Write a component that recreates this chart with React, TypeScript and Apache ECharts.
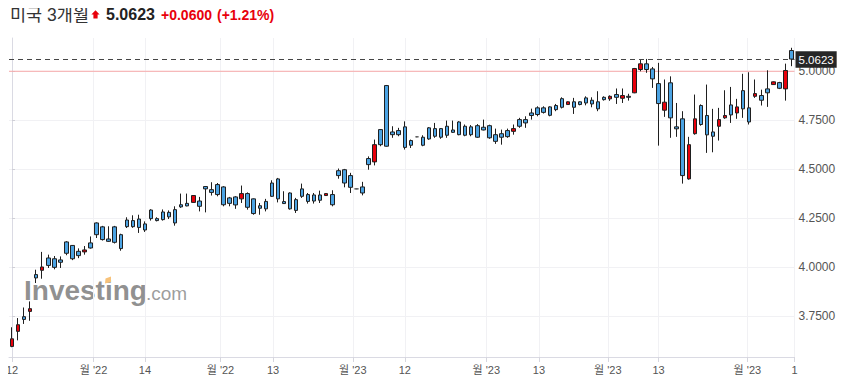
import { useEffect, useRef } from "react";
import * as echarts from "echarts";

// ---- data (weekly OHLC) ----
const opens = [
  3.594, 3.671, 3.746, 3.773, 3.961, 3.983, 4.046, 4.042, 4.036, 4.128,
  4.110, 4.080, 4.077, 4.123, 4.225, 4.205, 4.143, 4.205, 4.165, 4.240,
  4.237, 4.245, 4.220, 4.291, 4.247, 4.281, 4.279, 4.293, 4.318, 4.325,
  4.330, 4.337, 4.411, 4.395, 4.421, 4.409, 4.353, 4.358, 4.348, 4.375,
  4.348, 4.313, 4.335, 4.429, 4.450, 4.334, 4.378, 4.344, 4.399, 4.370,
  4.368, 4.368, 4.365, 4.370, 4.492, 4.497, 4.467, 4.399, 4.409, 4.554,
  4.537, 4.702, 4.927, 4.690, 4.697, 4.716, 4.646, 4.665, 4.663, 4.711,
  4.707, 4.707, 4.719, 4.700, 4.741, 4.719, 4.716, 4.722, 4.714, 4.722,
  4.676, 4.681, 4.697, 4.693, 4.753, 4.753, 4.787, 4.813, 4.813, 4.818,
  4.825, 4.860, 4.830, 4.844, 4.844, 4.864, 4.852, 4.844, 4.867, 4.859,
  4.881, 4.862, 4.872, 4.890, 5.009, 5.038, 5.012, 4.937, 4.801, 4.941,
  4.716, 4.757, 4.450, 4.681, 4.825, 4.774, 4.690, 4.719, 4.762, 4.828,
  4.787, 4.901, 4.813, 4.872, 4.876, 4.910, 4.932, 4.942, 4.910, 5.106,
];
const closes = [
  3.633, 3.705, 3.732, 3.787, 3.944, 4.000, 4.008, 3.998, 4.024, 4.070,
  4.042, 4.058, 4.087, 4.097, 4.165, 4.140, 4.131, 4.126, 4.094, 4.206,
  4.206, 4.202, 4.189, 4.247, 4.237, 4.242, 4.256, 4.225, 4.307, 4.312,
  4.365, 4.310, 4.399, 4.381, 4.370, 4.318, 4.325, 4.317, 4.375, 4.305,
  4.273, 4.300, 4.297, 4.361, 4.348, 4.324, 4.297, 4.289, 4.361, 4.335,
  4.337, 4.341, 4.375, 4.318, 4.467, 4.429, 4.407, 4.399, 4.378, 4.523,
  4.625, 4.625, 4.617, 4.676, 4.676, 4.611, 4.622, 4.665, 4.622, 4.654,
  4.668, 4.663, 4.673, 4.688, 4.676, 4.673, 4.676, 4.663, 4.700, 4.660,
  4.642, 4.663, 4.666, 4.707, 4.719, 4.736, 4.774, 4.779, 4.790, 4.775,
  4.804, 4.816, 4.844, 4.816, 4.830, 4.838, 4.833, 4.808, 4.855, 4.872,
  4.867, 4.876, 4.867, 5.014, 5.038, 5.009, 4.961, 4.835, 4.842, 4.762,
  4.706, 4.467, 4.625, 4.757, 4.728, 4.675, 4.668, 4.753, 4.774, 4.777,
  4.818, 4.808, 4.741, 4.886, 4.852, 4.890, 4.946, 4.913, 5.004, 5.0623,
];
const lows = [
  3.590, 3.625, 3.709, 3.725, 3.918, 3.940, 3.995, 3.988, 3.995, 4.060,
  4.035, 4.045, 4.063, 4.094, 4.148, 4.135, 4.128, 4.120, 4.083, 4.199,
  4.200, 4.174, 4.179, 4.237, 4.233, 4.237, 4.245, 4.211, 4.302, 4.310,
  4.328, 4.284, 4.279, 4.365, 4.361, 4.310, 4.310, 4.297, 4.327, 4.293,
  4.267, 4.267, 4.284, 4.358, 4.330, 4.322, 4.293, 4.276, 4.353, 4.324,
  4.324, 4.327, 4.363, 4.310, 4.451, 4.407, 4.378, 4.397, 4.366, 4.497,
  4.519, 4.617, 4.615, 4.660, 4.668, 4.600, 4.608, 4.663, 4.617, 4.650,
  4.660, 4.655, 4.660, 4.685, 4.673, 4.668, 4.668, 4.660, 4.698, 4.655,
  4.629, 4.625, 4.660, 4.676, 4.711, 4.711, 4.753, 4.770, 4.784, 4.770,
  4.796, 4.810, 4.829, 4.782, 4.826, 4.826, 4.816, 4.796, 4.850, 4.849,
  4.833, 4.838, 4.850, 4.888, 5.000, 4.992, 4.915, 4.620, 4.767, 4.660,
  4.665, 4.426, 4.446, 4.676, 4.722, 4.583, 4.586, 4.646, 4.757, 4.736,
  4.757, 4.762, 4.728, 4.864, 4.825, 4.818, 4.930, 4.909, 4.850, 5.026,
];
const highs = [
  3.692, 3.739, 3.793, 3.824, 3.986, 4.077, 4.063, 4.056, 4.054, 4.132,
  4.112, 4.095, 4.107, 4.156, 4.228, 4.210, 4.208, 4.210, 4.170, 4.254,
  4.264, 4.267, 4.233, 4.295, 4.254, 4.294, 4.289, 4.310, 4.375, 4.375,
  4.367, 4.358, 4.413, 4.433, 4.429, 4.413, 4.358, 4.362, 4.416, 4.381,
  4.350, 4.327, 4.348, 4.443, 4.455, 4.387, 4.381, 4.353, 4.426, 4.378,
  4.378, 4.390, 4.377, 4.392, 4.503, 4.501, 4.481, 4.401, 4.435, 4.565,
  4.651, 4.705, 4.930, 4.719, 4.711, 4.744, 4.651, 4.667, 4.673, 4.715,
  4.736, 4.710, 4.748, 4.748, 4.745, 4.728, 4.725, 4.730, 4.753, 4.727,
  4.707, 4.702, 4.707, 4.728, 4.762, 4.770, 4.809, 4.821, 4.821, 4.821,
  4.833, 4.867, 4.846, 4.864, 4.846, 4.872, 4.867, 4.898, 4.872, 4.877,
  4.912, 4.912, 4.885, 5.017, 5.060, 5.063, 5.022, 5.043, 4.958, 4.974,
  4.838, 4.796, 4.665, 4.881, 4.831, 4.932, 4.808, 4.813, 4.903, 4.920,
  4.859, 4.987, 4.995, 4.958, 4.906, 5.005, 4.948, 4.946, 5.039, 5.120,
];

const xTickPositions = [0, 13.5, 22, 34.5, 43.2, 56.4, 65, 78.5, 87.2, 98.6, 107, 121.7, 129.5];
const xTickLabels = ["12", "월 '22", "14", "월 '22", "13", "월 '23", "12", "월 '23", "13", "월 '23", "13", "월 '23", "1"];
const yTicks = [3.75, 4.0, 4.25, 4.5, 4.75, 5.0];

const lastPrice = 5.0623;
const referenceLevel = 5.0;
const titleText = "미국 3개월";
const priceText = "5.0623";
const changeText = "+0.0600";
const changePctText = "(+1.21%)";

const FONT = '"Liberation Sans", Arial, "Noto Sans CJK KR", sans-serif';
const UP_FILL = "#e8000b";
const DOWN_FILL = "#4ba3e3";
const EDGE = "#1f1f1f";
const GRID = "#f1f1f4";
const REF_LINE = "#f7a8a8";

export default function App() {
  const ref = useRef<HTMLDivElement>(null);

  useEffect(() => {
    if (!ref.current) return;
    const chart = echarts.init(ref.current, undefined, { renderer: "svg" });
    const candleData = opens.map((o, i) => [i, o, closes[i], lows[i], highs[i]]);
    const refLineData = [
      [-0.5, referenceLevel],
      [129.5, referenceLevel],
    ];

    const option: any = {
      animation: false,
      backgroundColor: "#ffffff",
      textStyle: { fontFamily: FONT },
      grid: { left: 9, right: 52.5, top: 38, bottom: 27, containLabel: false },
      xAxis: {
        type: "value",
        min: -0.5,
        max: 129.5,
        axisLine: { show: true, lineStyle: { color: "#dadae3" } },
        axisTick: {
          show: true,
          length: 5,
          customValues: xTickPositions,
          lineStyle: { color: "#d6d6de" },
        },
        axisLabel: {
          show: true,
          customValues: xTickPositions,
          color: "#555",
          fontSize: 11,
          fontFamily: FONT,
          margin: 7,
          formatter: (v: number) => {
            const k = xTickPositions.findIndex((t) => Math.abs(t - v) < 1e-6);
            return k >= 0 ? xTickLabels[k] : "";
          },
        },
        splitLine: { show: true, lineStyle: { color: GRID } },
      },
      yAxis: {
        type: "value",
        position: "right",
        min: 3.54,
        max: 5.17,
        scale: true,
        axisLine: { show: true, lineStyle: { color: "#dadae3" } },
        axisTick: {
          show: true,
          length: 3,
          customValues: yTicks,
          lineStyle: { color: "#cfcfd6" },
        },
        axisLabel: {
          show: true,
          customValues: yTicks,
          color: "#555",
          fontSize: 12,
          fontFamily: FONT,
          margin: 4,
          formatter: (v: number) => v.toFixed(4),
        },
        splitLine: { show: true, lineStyle: { color: GRID } },
      },
      series: [
        {
          type: "line",
          data: refLineData,
          z: 2,
          silent: true,
          symbol: "none",
          showSymbol: false,
          color: REF_LINE,
          lineStyle: { color: REF_LINE, width: 1, type: "solid" },
        },
        {
          type: "candlestick",
          data: candleData,
          encode: { x: 0, y: [1, 2, 3, 4] },
          barWidth: 4,
          z: 3,
          itemStyle: {
            color: UP_FILL,
            color0: DOWN_FILL,
            borderColor: EDGE,
            borderColor0: EDGE,
            borderColorDoji: "#555",
            borderWidth: 1,
          },
          markLine: {
            silent: true,
            symbol: ["none", "none"],
            animation: false,
            lineStyle: { color: "#454545", type: [5, 4], width: 1 },
            label: {
              show: true,
              position: "end",
              formatter: priceText,
              color: "#ffffff",
              backgroundColor: "#262626",
              fontSize: 11.5,
              fontFamily: FONT,
              padding: [3, 3, 2, 3],
              distance: 1,
            },
            data: [{ yAxis: lastPrice }],
          },
        },
      ],
      graphic: {
        elements: [
          // watermark
          {
            type: "text",
            x: 24,
            y: 290,
            z: 0,
            style: {
              text: "Investing",
              font: `bold 28px ${FONT}`,
              fill: "rgba(125,125,125,0.85)",
              verticalAlign: "middle",
              align: "left",
            },
          },
          {
            type: "polygon",
            z: 0,
            shape: { points: [[105, 283.5], [111, 282], [111, 276.5], [105.5, 278.5]] },
            style: { fill: "#f7c27a" },
          },
          {
            type: "text",
            x: 146,
            y: 293.5,
            z: 0,
            style: {
              text: ".com",
              font: `19px ${FONT}`,
              fill: "rgba(140,140,140,0.85)",
              verticalAlign: "middle",
              align: "left",
            },
          },
          // header
          {
            type: "text",
            x: 10,
            y: 14.5,
            style: {
              text: titleText,
              font: `17.5px ${FONT}`,
              fill: "#333",
              verticalAlign: "middle",
              align: "left",
            },
          },
          {
            type: "polygon",
            shape: { points: [[95.5, 10.3], [99.6, 14.6], [97.6, 14.6], [97.6, 18.4], [93.4, 18.4], [93.4, 14.6], [91.4, 14.6]] },
            style: { fill: "#e8000b" },
          },
          {
            type: "text",
            x: 106,
            y: 14.5,
            style: {
              text: priceText,
              font: `bold 16px ${FONT}`,
              fill: "#222",
              verticalAlign: "middle",
              align: "left",
            },
          },
          {
            type: "text",
            x: 161,
            y: 14.8,
            style: {
              text: changeText,
              font: `bold 14px ${FONT}`,
              fill: "#e8000b",
              verticalAlign: "middle",
              align: "left",
            },
          },
          {
            type: "text",
            x: 217,
            y: 14.8,
            style: {
              text: changePctText,
              font: `bold 14px ${FONT}`,
              fill: "#e8000b",
              verticalAlign: "middle",
              align: "left",
            },
          },
        ],
      },
    };

    chart.setOption(option);
    return () => chart.dispose();
  }, []);

  return <div ref={ref} style={{ width: 847, height: 384, margin: -8 }} />;
}
